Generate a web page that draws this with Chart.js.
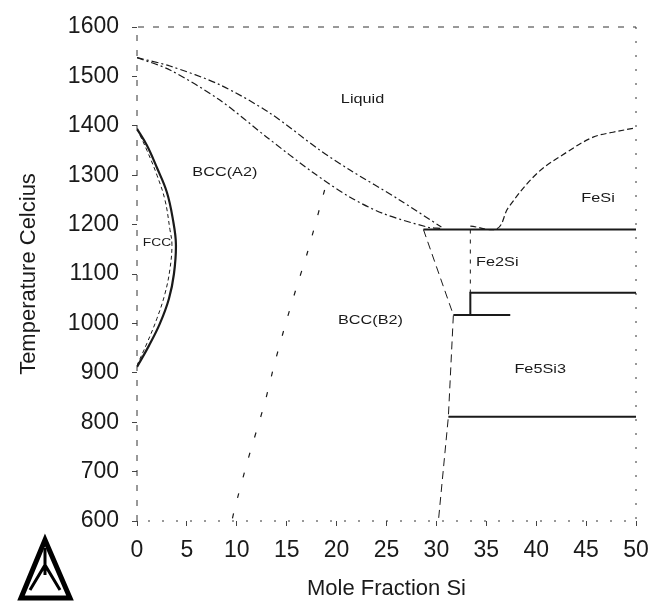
<!DOCTYPE html>
<html>
<head>
<meta charset="utf-8">
<script src="https://cdn.jsdelivr.net/npm/chart.js@4/dist/chart.umd.min.js"></script>
<style>
  html, body { margin: 0; padding: 0; background: #fff; }
  #wrap { width: 664px; height: 608px; }
</style>
</head>
<body>
<div id="wrap"><canvas id="chart" width="664" height="608"></canvas></div>
<script>
// Fe-Si phase diagram (Si in mole %, T in Celsius)
const xTickValues = [0, 5, 10, 15, 20, 25, 30, 35, 40, 45, 50];
const yTickValues = [600, 700, 800, 900, 1000, 1100, 1200, 1300, 1400, 1500, 1600];

const liquidusSi = [0, 3.3, 8.3, 13.3, 18.3, 21.3, 26.3, 30.5];
const liquidusT = [1538, 1521, 1483, 1426, 1351, 1311, 1250, 1195];

const solidusSi = [0, 3.3, 8.3, 13.0, 17.6, 21.3, 24.6, 29.1, 30.5];
const solidusT = [1538, 1513, 1452, 1377, 1306, 1256, 1223, 1195, 1192];

const fccOuterSi = [0, 1.0, 2.0, 3.0, 3.6, 3.9, 3.7, 3.2, 2.3, 1.2, 0];
const fccOuterT = [1394, 1360, 1315, 1265, 1210, 1160, 1100, 1050, 1000, 955, 912];
const fccInnerSi = [0, 1.0, 2.0, 2.8, 3.3, 3.5, 3.3, 2.8, 2.0, 1.0, 0];
const fccInnerT = [1394, 1350, 1300, 1250, 1190, 1160, 1110, 1060, 1010, 960, 915];

const a2b2Si = [18.8, 17.1, 16.0, 15.0, 13.8, 12.8, 11.1, 9.8, 9.5];
const a2b2T = [1270, 1145, 1074, 1007, 920, 839, 723, 626, 600];

const b2EdgeSi = [28.7, 31.7, 31.2, 30.2];
const b2EdgeT = [1190, 1017, 811, 600];

const fesiLiqSi = [33.4, 36.1, 37.2, 40.1, 43.1, 45.7, 47.7, 50];
const fesiLiqT = [1197, 1192, 1234, 1304, 1347, 1377, 1387, 1396];

const eutecticSi = [28.7, 50];
const eutecticT = [1190, 1190];
const fe2siDashSi = [33.4, 33.4];
const fe2siDashT = [1190, 1062];
const fe2siLowSi = [50, 33.4, 33.4];
const fe2siLowT = [1062, 1062, 1017];
const peritectoidSi = [31.7, 37.4];
const peritectoidT = [1017, 1017];
const fe5si3LowSi = [31.2, 50];
const fe5si3LowT = [811, 811];

const phaseNames = ["Liquid", "BCC(A2)", "FCC", "FeSi", "Fe2Si", "BCC(B2)", "Fe5Si3"];
const phaseSi = [22.6, 8.8, 2.0, 46.2, 36.1, 23.4, 40.4];
const phaseT = [1454, 1306, 1163, 1252, 1124, 1007, 906];

const FONT = "'Liberation Sans', Arial, sans-serif";
const INK = "#1a1a1a";

function pts(xs, ys) {
  return xs.map((x, i) => ({ x: x, y: ys[i] }));
}

function line(xs, ys, width, dash, tension) {
  return {
    data: pts(xs, ys),
    showLine: true,
    borderColor: INK,
    borderWidth: width,
    borderDash: dash,
    pointRadius: 0,
    tension: tension,
    fill: false,
  };
}

const datasets = [
  line(liquidusSi, liquidusT, 1.2, [7, 3, 2, 3], 0.3),
  line(solidusSi, solidusT, 1.2, [7, 3, 2, 3], 0.3),
  line(fccOuterSi, fccOuterT, 2.2, [], 0.4),
  line(fccInnerSi, fccInnerT, 1, [4, 3], 0.4),
  line(a2b2Si, a2b2T, 1.2, [5, 16], 0.2),
  line(b2EdgeSi, b2EdgeT, 1, [8, 5], 0),
  line(fesiLiqSi, fesiLiqT, 1.2, [6, 3], 0.35),
  line(eutecticSi, eutecticT, 2, [], 0),
  line(fe2siDashSi, fe2siDashT, 1, [4, 6], 0),
  line(fe2siLowSi, fe2siLowT, 2, [], 0),
  line(peritectoidSi, peritectoidT, 2, [], 0),
  line(fe5si3LowSi, fe5si3LowT, 2, [], 0),
];

// dashed frame, phase names and the logo
const decorPlugin = {
  id: "decor",
  beforeDatasetsDraw(chart) {
    const { ctx, chartArea: a } = chart;
    ctx.save();
    ctx.strokeStyle = "#333";
    ctx.lineWidth = 1;
    ctx.setLineDash([6, 9]);
    ctx.beginPath();
    ctx.moveTo(a.left, a.bottom);
    ctx.lineTo(a.left, a.top);
    ctx.lineTo(a.right, a.top);
    ctx.stroke();
    ctx.setLineDash([2, 12]);
    ctx.beginPath();
    ctx.moveTo(a.right, a.top);
    ctx.lineTo(a.right, a.bottom);
    ctx.lineTo(a.left, a.bottom);
    ctx.stroke();
    ctx.restore();
  },
  afterDraw(chart) {
    const { ctx } = chart;
    const xs = chart.scales.x;
    const ys = chart.scales.y;
    ctx.save();
    ctx.fillStyle = INK;
    ctx.textAlign = "center";
    ctx.textBaseline = "middle";
    phaseNames.forEach((name, i) => {
      const px = xs.getPixelForValue(phaseSi[i]);
      const py = ys.getPixelForValue(phaseT[i]);
      ctx.save();
      ctx.translate(px, py);
      ctx.scale(1.25, 1);
      ctx.font = (name === "FCC" ? "11px " : "13px ") + FONT;
      ctx.fillText(name, 0, 0);
      ctx.restore();
    });

    // logo in the lower left corner
    ctx.strokeStyle = "#000";
    ctx.lineJoin = "miter";
    ctx.lineWidth = 5;
    ctx.beginPath();
    ctx.moveTo(21, 598);
    ctx.lineTo(45, 540);
    ctx.lineTo(70, 598);
    ctx.closePath();
    ctx.stroke();
    ctx.lineWidth = 3;
    ctx.beginPath();
    ctx.moveTo(30, 590);
    ctx.lineTo(45, 565);
    ctx.lineTo(60, 590);
    ctx.moveTo(45, 548);
    ctx.lineTo(45, 575);
    ctx.stroke();
    ctx.restore();
  },
};

new Chart(document.getElementById("chart"), {
  type: "scatter",
  data: { datasets },
  options: {
    responsive: false,
    animation: false,
    layout: { padding: { left: 0, right: 28, top: 27, bottom: 0 } },
    plugins: {
      legend: { display: false },
      tooltip: { enabled: false },
    },
    scales: {
      x: {
        type: "linear",
        min: 0,
        max: 50,
        afterFit: (s) => { s.height = 87; },
        afterBuildTicks: (s) => { s.ticks = xTickValues.map((v) => ({ value: v })); },
        border: { display: false },
        grid: { drawOnChartArea: false, drawTicks: true, tickLength: 5, color: "#444" },
        ticks: { color: INK, padding: 11, font: { family: FONT, size: 23 }, callback: (v) => String(v) },
        title: {
          display: true,
          text: "Mole Fraction Si",
          color: INK,
          padding: { top: 0, bottom: 6 },
          font: { family: FONT, size: 22 },
        },
      },
      y: {
        type: "linear",
        min: 600,
        max: 1600,
        afterFit: (s) => { s.width = 137; },
        afterBuildTicks: (s) => { s.ticks = yTickValues.map((v) => ({ value: v })); },
        border: { display: false },
        grid: { drawOnChartArea: false, drawTicks: true, tickLength: 5, color: "#444" },
        ticks: { color: INK, padding: 13, font: { family: FONT, size: 23 }, callback: (v) => String(v) },
        title: {
          display: true,
          text: "Temperature Celcius",
          color: INK,
          padding: { top: 16, bottom: 0 },
          font: { family: FONT, size: 22 },
        },
      },
    },
  },
  plugins: [decorPlugin],
});
</script>
</body>
</html>
